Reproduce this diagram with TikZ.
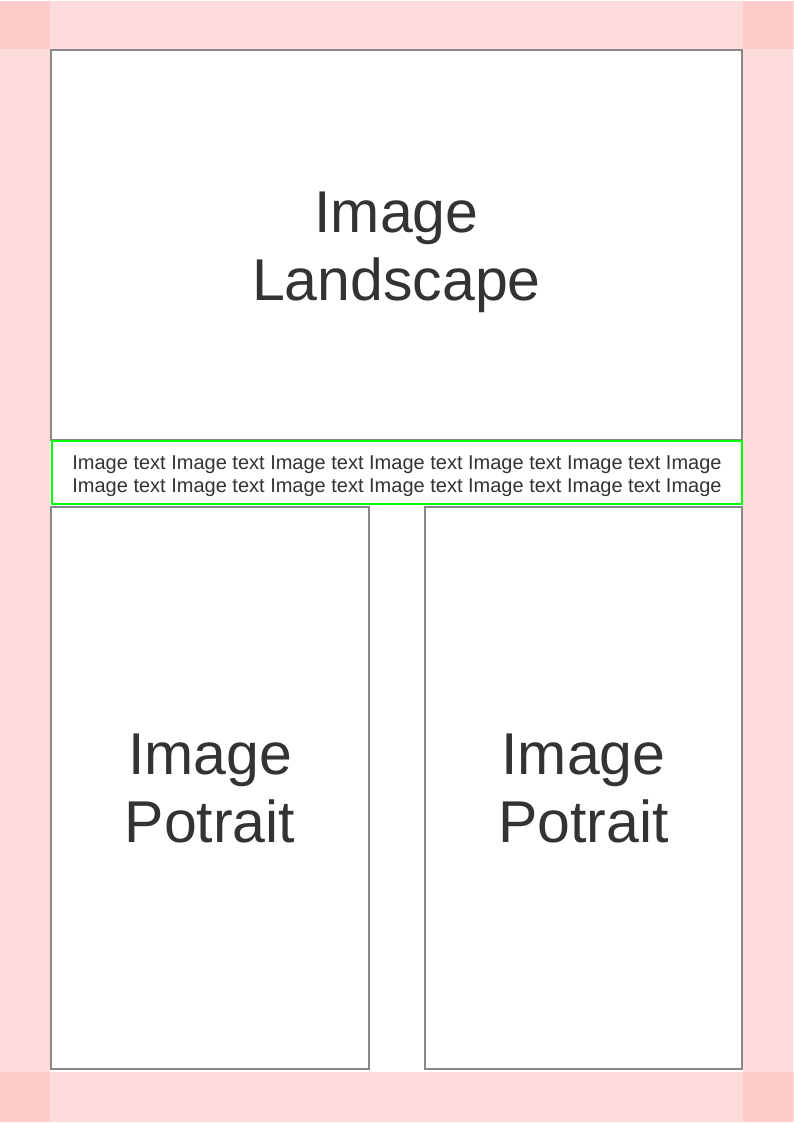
\documentclass[tikz,border=0pt]{standalone}
\usepackage{fontspec}
\setmainfont{Liberation Sans}
\usepackage{xcolor}
\usepackage{tikz}
\usetikzlibrary{positioning}
\definecolor{pinkbar}{RGB}{255,187,187}
\definecolor{frame}{RGB}{136,136,136}
\definecolor{textbox}{RGB}{0,255,0}
\definecolor{ink}{RGB}{51,51,51}

\tikzset{
  bar/.style={fill=pinkbar, fill opacity=0.5, draw=none},
  imgbox/.style={draw=frame, line width=2pt, fill=white, inner sep=0pt},
  imgtext/.style={text=ink, align=center, font=\fontsize{59}{68}\selectfont, inner sep=0pt},
  captionbox/.style={draw=textbox, line width=2pt, fill=white, inner sep=0pt},
  captiontext/.style={text=ink, align=center, font=\fontsize{20}{23}\selectfont, inner sep=0pt}
}

\begin{document}
\begin{tikzpicture}[x=1pt,y=-1pt]
        \useasboundingbox (0,0) rectangle (794,1123);
        \fill[white] (0,0) rectangle (794,1123);

        % Margins
        \fill[bar] (0,1) rectangle (794,49);
        \fill[bar] (0,1072) rectangle (794,1122);
        \fill[bar] (0,1) rectangle (50,1122);
        \fill[bar] (743,1) rectangle (793,1122);

        % Landscape image
        \node[imgbox, minimum width=691pt, minimum height=390pt] (land) at (396.5,245) {};
        \node[imgtext] (landtext) at ([yshift=-7pt]land.center) {Image\\Landscape};

        % Caption text
        \node[captionbox, minimum width=690pt, minimum height=63pt] (caption) at (397,472.5) {};
        \node[captiontext] (captiontext) at ([yshift=-3.5pt]caption.center)
          {Image text Image text Image text Image text Image text Image text Image\\
           Image text Image text Image text Image text Image text Image text Image};

        % Portrait images
        \node[imgbox, minimum width=318pt, minimum height=562pt] (portleft) at (210,788) {};
        \node[imgtext] (portlefttext) at (portleft.center) {Image\\Potrait};
        \node[imgbox, minimum width=317pt, minimum height=562pt] (portright) at (583.5,788) {};
        \node[imgtext] (portrighttext) at (portright.center) {Image\\Potrait};
    \end{tikzpicture}
\end{document}
